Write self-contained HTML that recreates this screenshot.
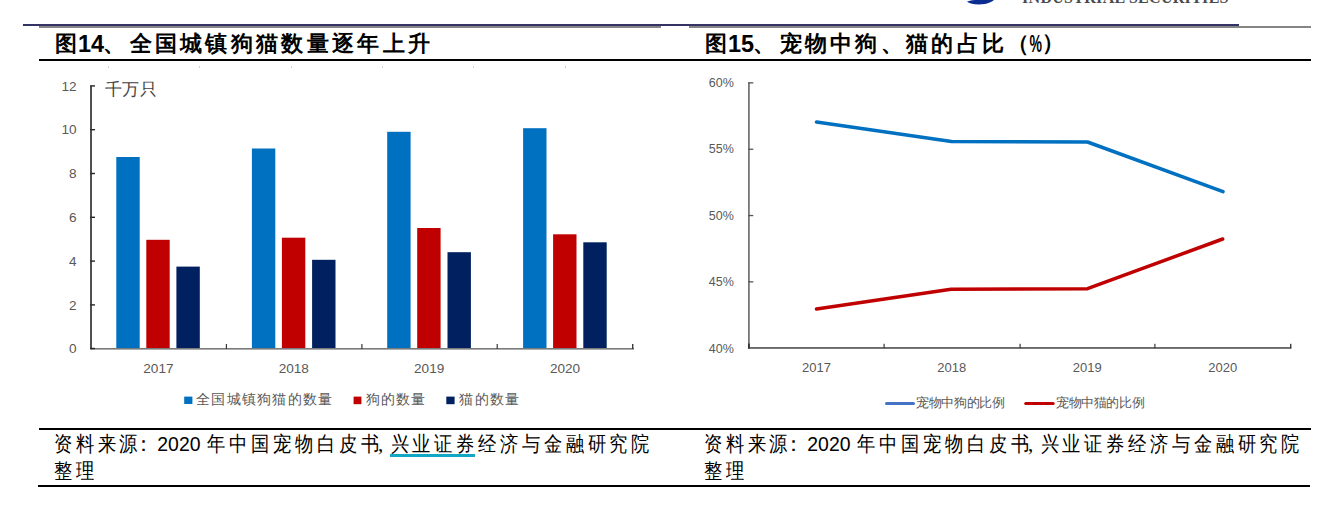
<!DOCTYPE html>
<html><head><meta charset="utf-8">
<style>
html,body{margin:0;padding:0;background:#fff;}
body{width:1332px;height:510px;position:relative;overflow:hidden;font-family:"Liberation Sans",sans-serif;}
.a{position:absolute;white-space:nowrap;}
.ln{position:absolute;}
.ttl{font-weight:bold;font-size:22px;color:#000;line-height:22px;}
.src{font-family:"Liberation Serif",serif;font-size:19px;color:#000;line-height:19px;}
svg{position:absolute;left:0;top:0;}
</style></head><body>

<!-- header logo remnants -->
<svg width="1332" height="510" viewBox="0 0 1332 510">
  <path d="M967,1.8 C970,4.2 978,5 985,3.9 C989,3.1 992,1.6 994,0 L975,0 C971,0.4 968,1 967,1.8 Z" fill="#0a2c91"/>
</svg>
<div class="a" style="left:1022px;top:-10.4px;font-family:'Liberation Serif',serif;font-size:16px;font-weight:bold;letter-spacing:0.3px;color:#4a4a4a;line-height:16px;">INDUSTRIAL SECURITIES</div>

<!-- header lines -->
<div class="ln" style="left:23px;top:24px;width:1216px;height:2px;background:#333366;"></div>
<div class="ln" style="left:39px;top:26px;width:622px;height:2px;background:#858585;"></div>
<div class="ln" style="left:689px;top:26px;width:622px;height:2px;background:#858585;"></div>
<div class="ln" style="left:39px;top:59px;width:1272px;height:2px;background:#000;"></div>

<!-- titles -->
<svg width="1332" height="510" viewBox="0 0 1332 510" font-family="Liberation Sans, sans-serif" font-weight="bold" fill="#000">
  <text x="54.7" y="51" font-size="22">图</text>
  <text x="78" y="51.7" font-size="23.5">14</text>
  <text x="103" y="51" font-size="22">、</text>
  <text x="129.6" y="51" font-size="22" letter-spacing="3.3">全国城镇狗猫数量逐年上升</text>
  <text x="704.7" y="51" font-size="22">图</text>
  <text x="728" y="51.7" font-size="23.5">15</text>
  <text x="753" y="51" font-size="22">、</text>
  <text x="779.6" y="51" font-size="22" letter-spacing="3.3">宠物中狗、猫的占比（</text>
  <text x="1029.5" y="51.8" font-size="23" textLength="12.5" lengthAdjust="spacingAndGlyphs">%</text>
  <text x="1041.5" y="50" font-size="22">）</text>
</svg>
<!-- charts -->
<svg width="1332" height="510" viewBox="0 0 1332 510" font-family="Liberation Sans, sans-serif">
  <!-- faint dots -->
  <g fill="#d2d2d2">
    <rect x="108" y="66" width="1" height="2"/><rect x="199" y="66" width="1" height="2"/>
    <rect x="291" y="66" width="1" height="2"/><rect x="382" y="66" width="1" height="2"/>
    <rect x="473" y="66" width="1" height="2"/><rect x="565" y="66" width="1" height="2"/>
  </g>
  <!-- LEFT bar chart -->
  <g>
    <rect x="116.3" y="157" width="23.4" height="191.6" fill="#0070c0"/>
    <rect x="146.3" y="239.8" width="23.4" height="108.8" fill="#c00000"/>
    <rect x="176.4" y="266.6" width="23.4" height="82" fill="#002060"/>
    <rect x="251.9" y="148.5" width="23.4" height="200.1" fill="#0070c0"/>
    <rect x="281.9" y="237.7" width="23.4" height="110.9" fill="#c00000"/>
    <rect x="312.1" y="259.8" width="23.4" height="88.8" fill="#002060"/>
    <rect x="387.2" y="131.8" width="23.4" height="216.8" fill="#0070c0"/>
    <rect x="417.2" y="228" width="23.4" height="120.6" fill="#c00000"/>
    <rect x="447.5" y="252.2" width="23.4" height="96.4" fill="#002060"/>
    <rect x="523.1" y="128.2" width="23.4" height="220.4" fill="#0070c0"/>
    <rect x="553.1" y="234.3" width="23.4" height="114.3" fill="#c00000"/>
    <rect x="583.3" y="242.3" width="23.4" height="106.3" fill="#002060"/>
  </g>
  <!-- x axis -->
  <rect x="90.5" y="348" width="543.5" height="1.6" fill="#7a7a7a"/>
  <g fill="#3a3a3a">
    <rect x="225.8" y="344" width="1.2" height="5"/>
    <rect x="361.3" y="344" width="1.2" height="5"/>
    <rect x="496.6" y="344" width="1.2" height="5"/>
    <rect x="632" y="344" width="1.4" height="5"/>
  </g>
  <!-- y axis -->
  <rect x="90.2" y="85.7" width="1.6" height="263.5" fill="#262626"/>
  <g fill="#262626">
    <rect x="90.2" y="85.2" width="4.8" height="1.4"/>
    <rect x="90.2" y="129" width="4.8" height="1.4"/>
    <rect x="90.2" y="172.8" width="4.8" height="1.4"/>
    <rect x="90.2" y="216.6" width="4.8" height="1.4"/>
    <rect x="90.2" y="260.4" width="4.8" height="1.4"/>
    <rect x="90.2" y="304.2" width="4.8" height="1.4"/>
    <rect x="90.2" y="347.8" width="4.8" height="1.4"/>
  </g>
  <g fill="#595959" font-size="13.6" text-anchor="end">
    <text x="76.5" y="90.6">12</text>
    <text x="76.5" y="134.4">10</text>
    <text x="76.5" y="178.2">8</text>
    <text x="76.5" y="222">6</text>
    <text x="76.5" y="265.8">4</text>
    <text x="76.5" y="309.6">2</text>
    <text x="76.5" y="353.2">0</text>
  </g>
  <g fill="#595959" font-size="13.6" text-anchor="middle">
    <text x="158.4" y="373.3">2017</text>
    <text x="293.8" y="373.3">2018</text>
    <text x="429.2" y="373.3">2019</text>
    <text x="565" y="373.3">2020</text>
  </g>
  <text x="104.5" y="95" font-size="17" letter-spacing="0.6" fill="#404040">千万只</text>
  <!-- legend left -->
  <rect x="184.2" y="396.6" width="8.2" height="7.4" fill="#0070c0"/>
  <rect x="353.6" y="396.6" width="7.8" height="7.6" fill="#c00000"/>
  <rect x="446.3" y="396.6" width="8.3" height="7.6" fill="#002060"/>
  <g fill="#595959" font-size="14">
    <text x="196" y="403.9" letter-spacing="1.3">全国城镇狗猫的数量</text>
    <text x="365.6" y="403.9" letter-spacing="1.3">狗的数量</text>
    <text x="459.3" y="403.9" letter-spacing="1.3">猫的数量</text>
  </g>

  <!-- RIGHT line chart -->
  <rect x="748" y="82.3" width="1.8" height="266.5" fill="#777"/>
  <g fill="#555">
    <rect x="748.3" y="82.2" width="5" height="1.3"/>
    <rect x="748.3" y="148.6" width="5" height="1.3"/>
    <rect x="748.3" y="214.9" width="5" height="1.3"/>
    <rect x="748.3" y="281.2" width="5" height="1.3"/>
  </g>
  <rect x="748" y="347" width="543.3" height="1.9" fill="#6a6a6a"/>
  <rect x="748" y="343.5" width="1.8" height="5" fill="#333"/>
  <g fill="#3a3a3a">
    <rect x="883.5" y="343.8" width="1.2" height="4.5"/>
    <rect x="1019.5" y="343.8" width="1.2" height="4.5"/>
    <rect x="1154.3" y="343.8" width="1.2" height="4.5"/>
    <rect x="1290" y="343.8" width="1.4" height="4.5"/>
  </g>
  <g fill="#595959" font-size="12.5" text-anchor="end">
    <text x="733.8" y="87">60%</text>
    <text x="733.8" y="153.3">55%</text>
    <text x="733.8" y="219.6">50%</text>
    <text x="733.8" y="286">45%</text>
    <text x="733.8" y="352.8">40%</text>
  </g>
  <g fill="#595959" font-size="13" text-anchor="middle">
    <text x="816.5" y="372">2017</text>
    <text x="951.8" y="372">2018</text>
    <text x="1087.3" y="372">2019</text>
    <text x="1222.7" y="372">2020</text>
  </g>
  <polyline points="816.5,122 951.5,141.5 1087.5,142 1223,191.6" fill="none" stroke="#0070c0" stroke-width="3.5" stroke-linecap="round" stroke-linejoin="round"/>
  <polyline points="816.5,308.9 951,289.2 1087.5,288.7 1222.7,239" fill="none" stroke="#c00000" stroke-width="3.5" stroke-linecap="round" stroke-linejoin="round"/>
  <!-- legend right -->
  <line x1="886.5" y1="403.5" x2="913.5" y2="403.5" stroke="#4472c4" stroke-width="3" stroke-linecap="round"/>
  <line x1="1025.7" y1="403.6" x2="1053.2" y2="403.6" stroke="#c00000" stroke-width="3" stroke-linecap="round"/>
  <g fill="#595959" font-size="13" letter-spacing="-0.4">
    <text x="916.3" y="407">宠物中狗的比例</text>
    <text x="1056" y="407">宠物中猫的比例</text>
  </g>
</svg>

<!-- source lines -->
<div class="ln" style="left:39px;top:428px;width:1272px;height:2px;background:#000;"></div>
<div class="ln" style="left:38px;top:485px;width:1272px;height:2px;background:#000;"></div>

<!-- source text -->
<div class="ln" style="left:390px;top:454.3px;width:84.5px;height:2.3px;background:#12a8c4;"></div>
<svg width="1332" height="510" viewBox="0 0 1332 510" font-family="Liberation Serif, serif" fill="#000">
 <g>
  <text transform="translate(53.72,450.7) scale(0.87,1)" font-size="21" letter-spacing="3.83">资料来源</text>
  <text x="132.8" y="450.5" font-size="21">：</text>
  <text x="157.3" y="450.6" font-size="20.3" textLength="43.2" lengthAdjust="spacingAndGlyphs" font-family="Liberation Sans, sans-serif">2020</text>
  <text transform="translate(207.37,450.7) scale(0.87,1)" font-size="21" letter-spacing="3.83">年中国宠物白皮书</text>
  <text x="378" y="450.7" font-size="21">,</text>
  <text transform="translate(390.56,450.7) scale(0.87,1)" font-size="21" letter-spacing="3.82">兴业证券经济与金融研究院</text>
  <text transform="translate(53.72,477.7) scale(0.87,1)" font-size="21" letter-spacing="3.89">整理</text>
 </g>
 <g transform="translate(650,0)">
  <text transform="translate(53.72,450.7) scale(0.87,1)" font-size="21" letter-spacing="3.83">资料来源</text>
  <text x="132.8" y="450.5" font-size="21">：</text>
  <text x="157.3" y="450.6" font-size="20.3" textLength="43.2" lengthAdjust="spacingAndGlyphs" font-family="Liberation Sans, sans-serif">2020</text>
  <text transform="translate(207.37,450.7) scale(0.87,1)" font-size="21" letter-spacing="3.83">年中国宠物白皮书</text>
  <text x="378" y="450.7" font-size="21">,</text>
  <text transform="translate(390.56,450.7) scale(0.87,1)" font-size="21" letter-spacing="3.82">兴业证券经济与金融研究院</text>
  <text transform="translate(53.72,477.7) scale(0.87,1)" font-size="21" letter-spacing="3.89">整理</text>
 </g>
</svg>

</body></html>
